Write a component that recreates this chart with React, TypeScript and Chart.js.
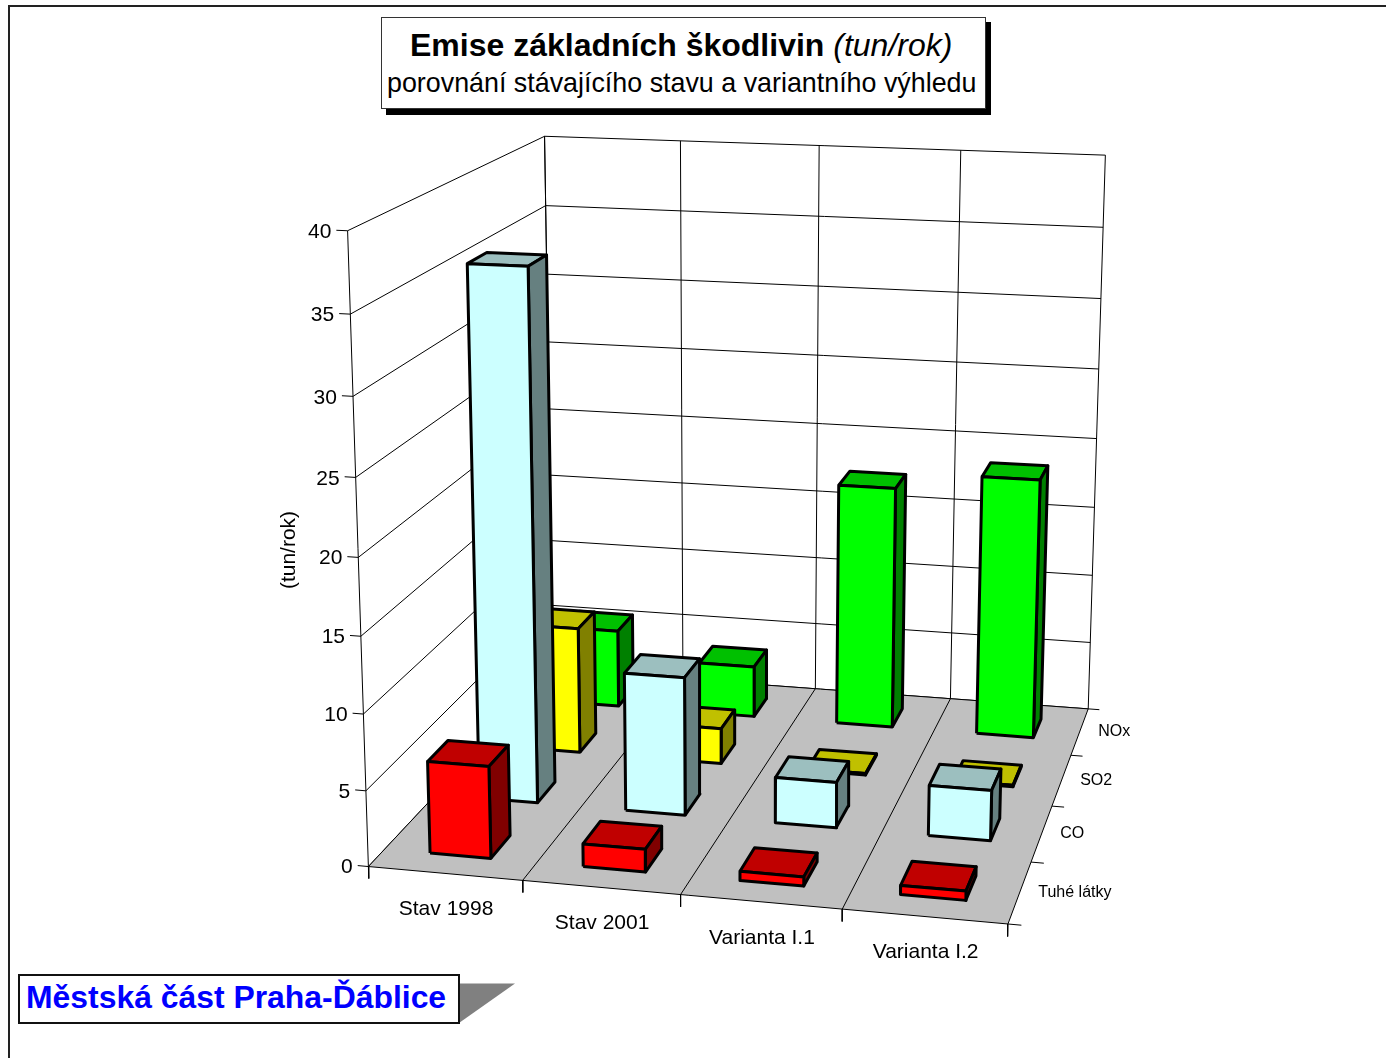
import React, { useEffect, useRef } from "react";
import { Chart, registerables } from "chart.js";

Chart.register(...registerables);

const categories = ["Stav 1998", "Stav 2001", "Varianta I.1", "Varianta I.2"];
const seriesNames = ["Tuhé látky", "CO", "SO2", "NOx"];
const tuheLatky = [6.1, 1.5, 0.6, 0.6];
const co = [35.8, 9.4, 3.1, 3.4];
const so2 = [8.9, 2.5, 0.1, 0.1];
const nox = [5.65, 3.7, 17.4, 18.6];
const seriesValues = [tuheLatky, co, so2, nox];
const valueTicks = [0, 5, 10, 15, 20, 25, 30, 35, 40];
const axisTitle = "(tun/rok)";

const frontColors = ["#ff0000", "#ccffff", "#ffff00", "#00ff00"];
const topColors = ["#c00000", "#9cbfbf", "#c0c000", "#00c000"];
const sideColors = ["#800000", "#668080", "#808000", "#008000"];

const W = 1386;
const H = 1058;
const MAXV = 40;
const NC = categories.length;
const NS = seriesNames.length;

// Camera calibration: [category pos, value, series pos, pixel x, pixel y]
const calibration: number[][] = [
  [0, 0, 0, 369, 866], [1, 0, 0, 523, 881], [2, 0, 0, 681, 895], [3, 0, 0, 842, 909], [4, 0, 0, 1007, 924],
  [4, 0, 1, 1032, 862], [4, 0, 2, 1052, 806], [4, 0, 3, 1071, 755], [4, 0, 4, 1088, 709],
  [0, 0, 4, 552, 669], [1, 0, 4, 683, 679], [2, 0, 4, 816, 689], [3, 0, 4, 950, 699],
  [0, 40, 0, 347, 231], [0, 40, 4, 545, 137], [1, 40, 4, 681, 140], [2, 40, 4, 819, 146], [3, 40, 4, 961, 150], [4, 40, 4, 1105, 155],
  [0, 5, 0, 366, 791], [0, 10, 0, 363, 714], [0, 15, 0, 361, 636], [0, 20, 0, 358, 557], [0, 25, 0, 356, 477], [0, 30, 0, 353, 397], [0, 35, 0, 350, 314],
];

function fitCamera(): number[] {
  const n = 11;
  const A: number[][] = Array.from({ length: n }, () => new Array(n + 1).fill(0));
  const add = (row: number[], rhs: number) => {
    for (let i = 0; i < n; i++) {
      for (let j = 0; j < n; j++) A[i][j] += row[i] * row[j];
      A[i][n] += row[i] * rhs;
    }
  };
  for (const [c, v, s, px, py] of calibration) {
    const X = c / NC, Y = v / MAXV, Z = s / NS, u = px / 1000, w = py / 1000;
    add([X, Y, Z, 1, 0, 0, 0, 0, -u * X, -u * Y, -u * Z], u);
    add([0, 0, 0, 0, X, Y, Z, 1, -w * X, -w * Y, -w * Z], w);
  }
  for (let i = 0; i < n; i++) {
    let p = i;
    for (let r = i + 1; r < n; r++) if (Math.abs(A[r][i]) > Math.abs(A[p][i])) p = r;
    [A[i], A[p]] = [A[p], A[i]];
    for (let r = 0; r < n; r++) {
      if (r === i) continue;
      const f = A[r][i] / A[i][i];
      for (let k = i; k <= n; k++) A[r][k] -= f * A[i][k];
    }
  }
  return A.map((row, i) => row[n] / row[i]);
}

const cam = fitCamera();
function project(c: number, v: number, s: number) {
  const X = c / NC, Y = v / MAXV, Z = s / NS;
  const d = cam[8] * X + cam[9] * Y + cam[10] * Z + 1;
  return {
    x: (1000 * (cam[0] * X + cam[1] * Y + cam[2] * Z + cam[3])) / d,
    y: (1000 * (cam[4] * X + cam[5] * Y + cam[6] * Z + cam[7])) / d,
  };
}

type P3 = [number, number, number];
function shape(pts: P3[], fill: string | null, width: number, color = "#000") {
  const data = pts.map((p) => project(p[0], p[1], p[2]));
  if (fill) data.push(data[0]);
  return {
    type: "line" as const,
    data,
    fill: fill ? "shape" : false,
    backgroundColor: fill ?? "transparent",
    borderColor: color,
    borderWidth: width,
    borderJoinStyle: "round" as const,
    pointRadius: 0,
    tension: 0,
    clip: false,
  };
}

function buildDatasets() {
  const list: any[] = [];
  // walls grid
  for (const t of valueTicks) {
    list.push(shape([[0, t, 0], [0, t, NS], [NC, t, NS]], null, 1));
    list.push(shape([[0, t, 0], [-0.07, t, 0]], null, 1));
  }
  for (let k = 0; k <= NC; k++) list.push(shape([[k, 0, NS], [k, MAXV, NS]], null, 1));
  list.push(shape([[0, 0, 0], [0, MAXV, 0]], null, 1));
  list.push(shape([[0, 0, NS], [0, MAXV, NS]], null, 1));
  // floor
  list.push(shape([[0, 0, 0], [NC, 0, 0], [NC, 0, NS], [0, 0, NS]], "#c0c0c0", 1));
  for (let k = 1; k < NC; k++) list.push(shape([[k, 0, 0], [k, 0, NS]], null, 1));
  // axis ticks
  for (let k = 0; k <= NC; k++) list.push(shape([[k, 0, 0], [k, -0.8, 0]], null, 1));
  for (let k = 0; k <= NS; k++) list.push(shape([[NC, 0, k], [NC + 0.08, 0, k]], null, 1));
  // bars, back to front, right to left
  const a = 0.3, b = 0.7;
  for (let s = NS - 1; s >= 0; s--) {
    for (let c = NC - 1; c >= 0; c--) {
      const v = seriesValues[s][c];
      const x0 = c + a, x1 = c + b, z0 = s + a, z1 = s + b;
      list.push(shape([[x0, v, z0], [x1, v, z0], [x1, v, z1], [x0, v, z1]], topColors[s], 3));
      list.push(shape([[x1, 0, z0], [x1, 0, z1], [x1, v, z1], [x1, v, z0]], sideColors[s], 3));
      list.push(shape([[x0, 0, z0], [x1, 0, z0], [x1, v, z0], [x0, v, z0]], frontColors[s], 3));
    }
  }
  list.forEach((d, i) => (d.order = list.length - i));
  return list;
}

const labelPlugin = {
  id: "labels3d",
  afterDatasetsDraw(chart: any) {
    const ctx = chart.ctx;
    ctx.save();
    ctx.fillStyle = "#000";
    ctx.textBaseline = "middle";
    ctx.font = "21px 'Liberation Sans'";
    ctx.textAlign = "right";
    for (const t of valueTicks) {
      const p = project(-0.07, t, 0);
      ctx.fillText(String(t), p.x - 5, p.y + 2);
    }
    ctx.textAlign = "center";
    categories.forEach((name, i) => {
      const p = project(i + 0.5, 0, 0);
      ctx.fillText(name, p.x + 1, p.y + 36);
    });
    ctx.font = "16px 'Liberation Sans'";
    ctx.textAlign = "left";
    seriesNames.forEach((name, i) => {
      const p = project(NC, 0, i + 0.5);
      ctx.fillText(name, p.x + 18.5, p.y + 0.5);
    });
    ctx.font = "21px 'Liberation Sans'";
    ctx.textAlign = "center";
    ctx.translate(289, 550);
    ctx.rotate(-Math.PI / 2);
    ctx.fillText(axisTitle, 0, 0);
    ctx.restore();
  },
};

const abs = (o: React.CSSProperties): React.CSSProperties => ({ position: "absolute", boxSizing: "border-box", ...o });

export default function App() {
  const ref = useRef<HTMLCanvasElement>(null);
  useEffect(() => {
    if (!ref.current) return;
    const chart = new Chart(ref.current, {
      type: "line",
      data: { datasets: buildDatasets() },
      plugins: [labelPlugin],
      options: {
        animation: false,
        responsive: false,
        events: [],
        layout: { padding: 0 },
        parsing: { xAxisKey: "x", yAxisKey: "y" },
        plugins: { legend: { display: false }, tooltip: { enabled: false }, title: { display: false } },
        scales: {
          x: { type: "linear", min: 0, max: W, display: false },
          y: { type: "linear", min: 0, max: H, reverse: true, display: false },
        },
      },
    } as any);
    return () => chart.destroy();
  }, []);
  const font = "'Liberation Sans', Arial, sans-serif";
  return (
    <div style={abs({ left: 0, top: 0, width: W, height: H, overflow: "hidden", background: "#fff", fontFamily: font })}>
      <canvas ref={ref} width={W} height={H} style={abs({ left: 0, top: 0, width: W, height: H, display: "block" })} />
      <div style={abs({ left: 8, top: 5, width: W - 8, height: 2, background: "#222" })} />
      <div style={abs({ left: 8, top: 5, width: 1.5, height: H - 5, background: "#222" })} />
      <div style={abs({ left: 386, top: 22, width: 605, height: 93, background: "#000" })} />
      <div
        style={abs({
          left: 381, top: 17, width: 605, height: 92, background: "#fff", border: "1px solid #333",
          color: "#000", whiteSpace: "nowrap",
        })}
      >
        <div style={{ position: "absolute", left: 28, top: 8, fontSize: 32, lineHeight: "38px", fontWeight: 700 }}>
          Emise základních škodlivin <span style={{ fontWeight: 400, fontStyle: "italic" }}>(tun/rok)</span>
        </div>
        <div style={{ position: "absolute", left: 5, top: 49, fontSize: 26.85, lineHeight: "32px" }}>
          porovnání stávajícího stavu a variantního výhledu
        </div>
      </div>
      <svg width={60} height={44} style={abs({ left: 459, top: 982 })}>
        <polygon points="0,1.5 56,1.5 0,41" fill="#808080" />
      </svg>
      <div
        style={abs({
          left: 18, top: 974, width: 442, height: 50, background: "#fff", border: "2px solid #111",
          color: "#0000ff", fontWeight: 700, fontSize: 31.9, lineHeight: "42px", paddingLeft: 6, whiteSpace: "nowrap",
        })}
      >
        Městská část Praha-Ďáblice
      </div>
    </div>
  );
}
